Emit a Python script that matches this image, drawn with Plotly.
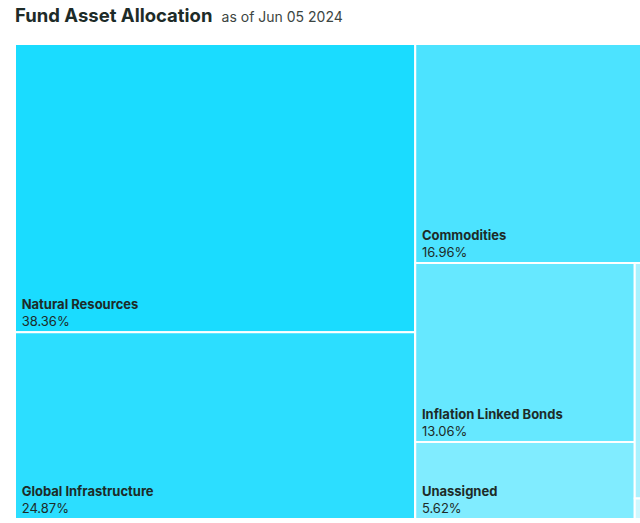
import plotly.graph_objects as go

labels = ["Natural Resources", "Global Infrastructure", "Commodities",
          "Inflation Linked Bonds", "Unassigned", "Cash", "Other"]
values = [38.36, 24.87, 16.96, 13.06, 5.62, 1.04, 0.09]
colors = ["#1adcff", "#2cdeff", "#4ce3ff", "#66e8ff", "#80ecff", "#a9f2ff", "#cff8ff"]

# invisible grouping nodes (in drawing order) that reproduce the reference tiling
group_parent = {"root": "", "A": "root", "B": "root", "C": "B", "D": "C", "E": "C"}
leaf_group = dict(zip(labels, ["A", "A", "B", "D", "D", "E", "E"]))
node_order = ["root", "A", "Natural Resources", "Global Infrastructure", "B",
              "Commodities", "C", "D", "Inflation Linked Bonds", "Unassigned",
              "E", "Cash", "Other"]

val_of = dict(zip(labels, values))
col_of = dict(zip(labels, colors))
totals = {g: 0.0 for g in group_parent}
for lab in labels:
    node = leaf_group[lab]
    while node:
        totals[node] += val_of[lab]
        node = group_parent[node]

ids, labs, pars, vals, cols, texts = [], [], [], [], [], []
for n in node_order:
    ids.append(n)
    if n in group_parent:
        labs.append(""); pars.append(group_parent[n]); vals.append(totals[n])
        cols.append("white"); texts.append("")
    else:
        labs.append(n); pars.append(leaf_group[n]); vals.append(val_of[n])
        cols.append(col_of[n])
        texts.append(f"&nbsp;<b>{n}</b><br>&nbsp;{val_of[n]:.2f}%")

fig = go.Figure(go.Treemap(
    ids=ids,
    labels=labs,
    parents=pars,
    values=vals,
    branchvalues="total",
    sort=False,
    text=texts,
    texttemplate="%{text}",
    marker=dict(colors=cols, line=dict(color="white", width=2),
                pad=dict(t=0, l=0, r=0, b=0), depthfade=False),
    tiling=dict(packing="slice-dice", pad=0),
    textposition="bottom left",
    textfont=dict(family="Inter, Roboto, sans-serif", size=13, color="#1d2b28"),
    hoverinfo="text",
    pathbar=dict(visible=False),
))

fig.update_layout(
    width=655, height=523,
    margin=dict(l=15, r=7, t=44, b=4),
    paper_bgcolor="white",
    title=dict(
        text="<b>Fund Asset Allocation</b> <span style='font-size:14px;color:#3c4542;font-weight:normal'> as of Jun 05 2024</span>",
        x=0, xref="paper", xanchor="left",
        y=1 - 16 / 523, yref="container", yanchor="middle",
        font=dict(family="Inter, Roboto, sans-serif", size=18.5, color="#1d2b28"),
    ),
    uniformtext=dict(minsize=13, mode="hide"),
)

fig.write_html("out.html", post_script="document.body.style.overflow='hidden';document.body.style.margin='0';")
